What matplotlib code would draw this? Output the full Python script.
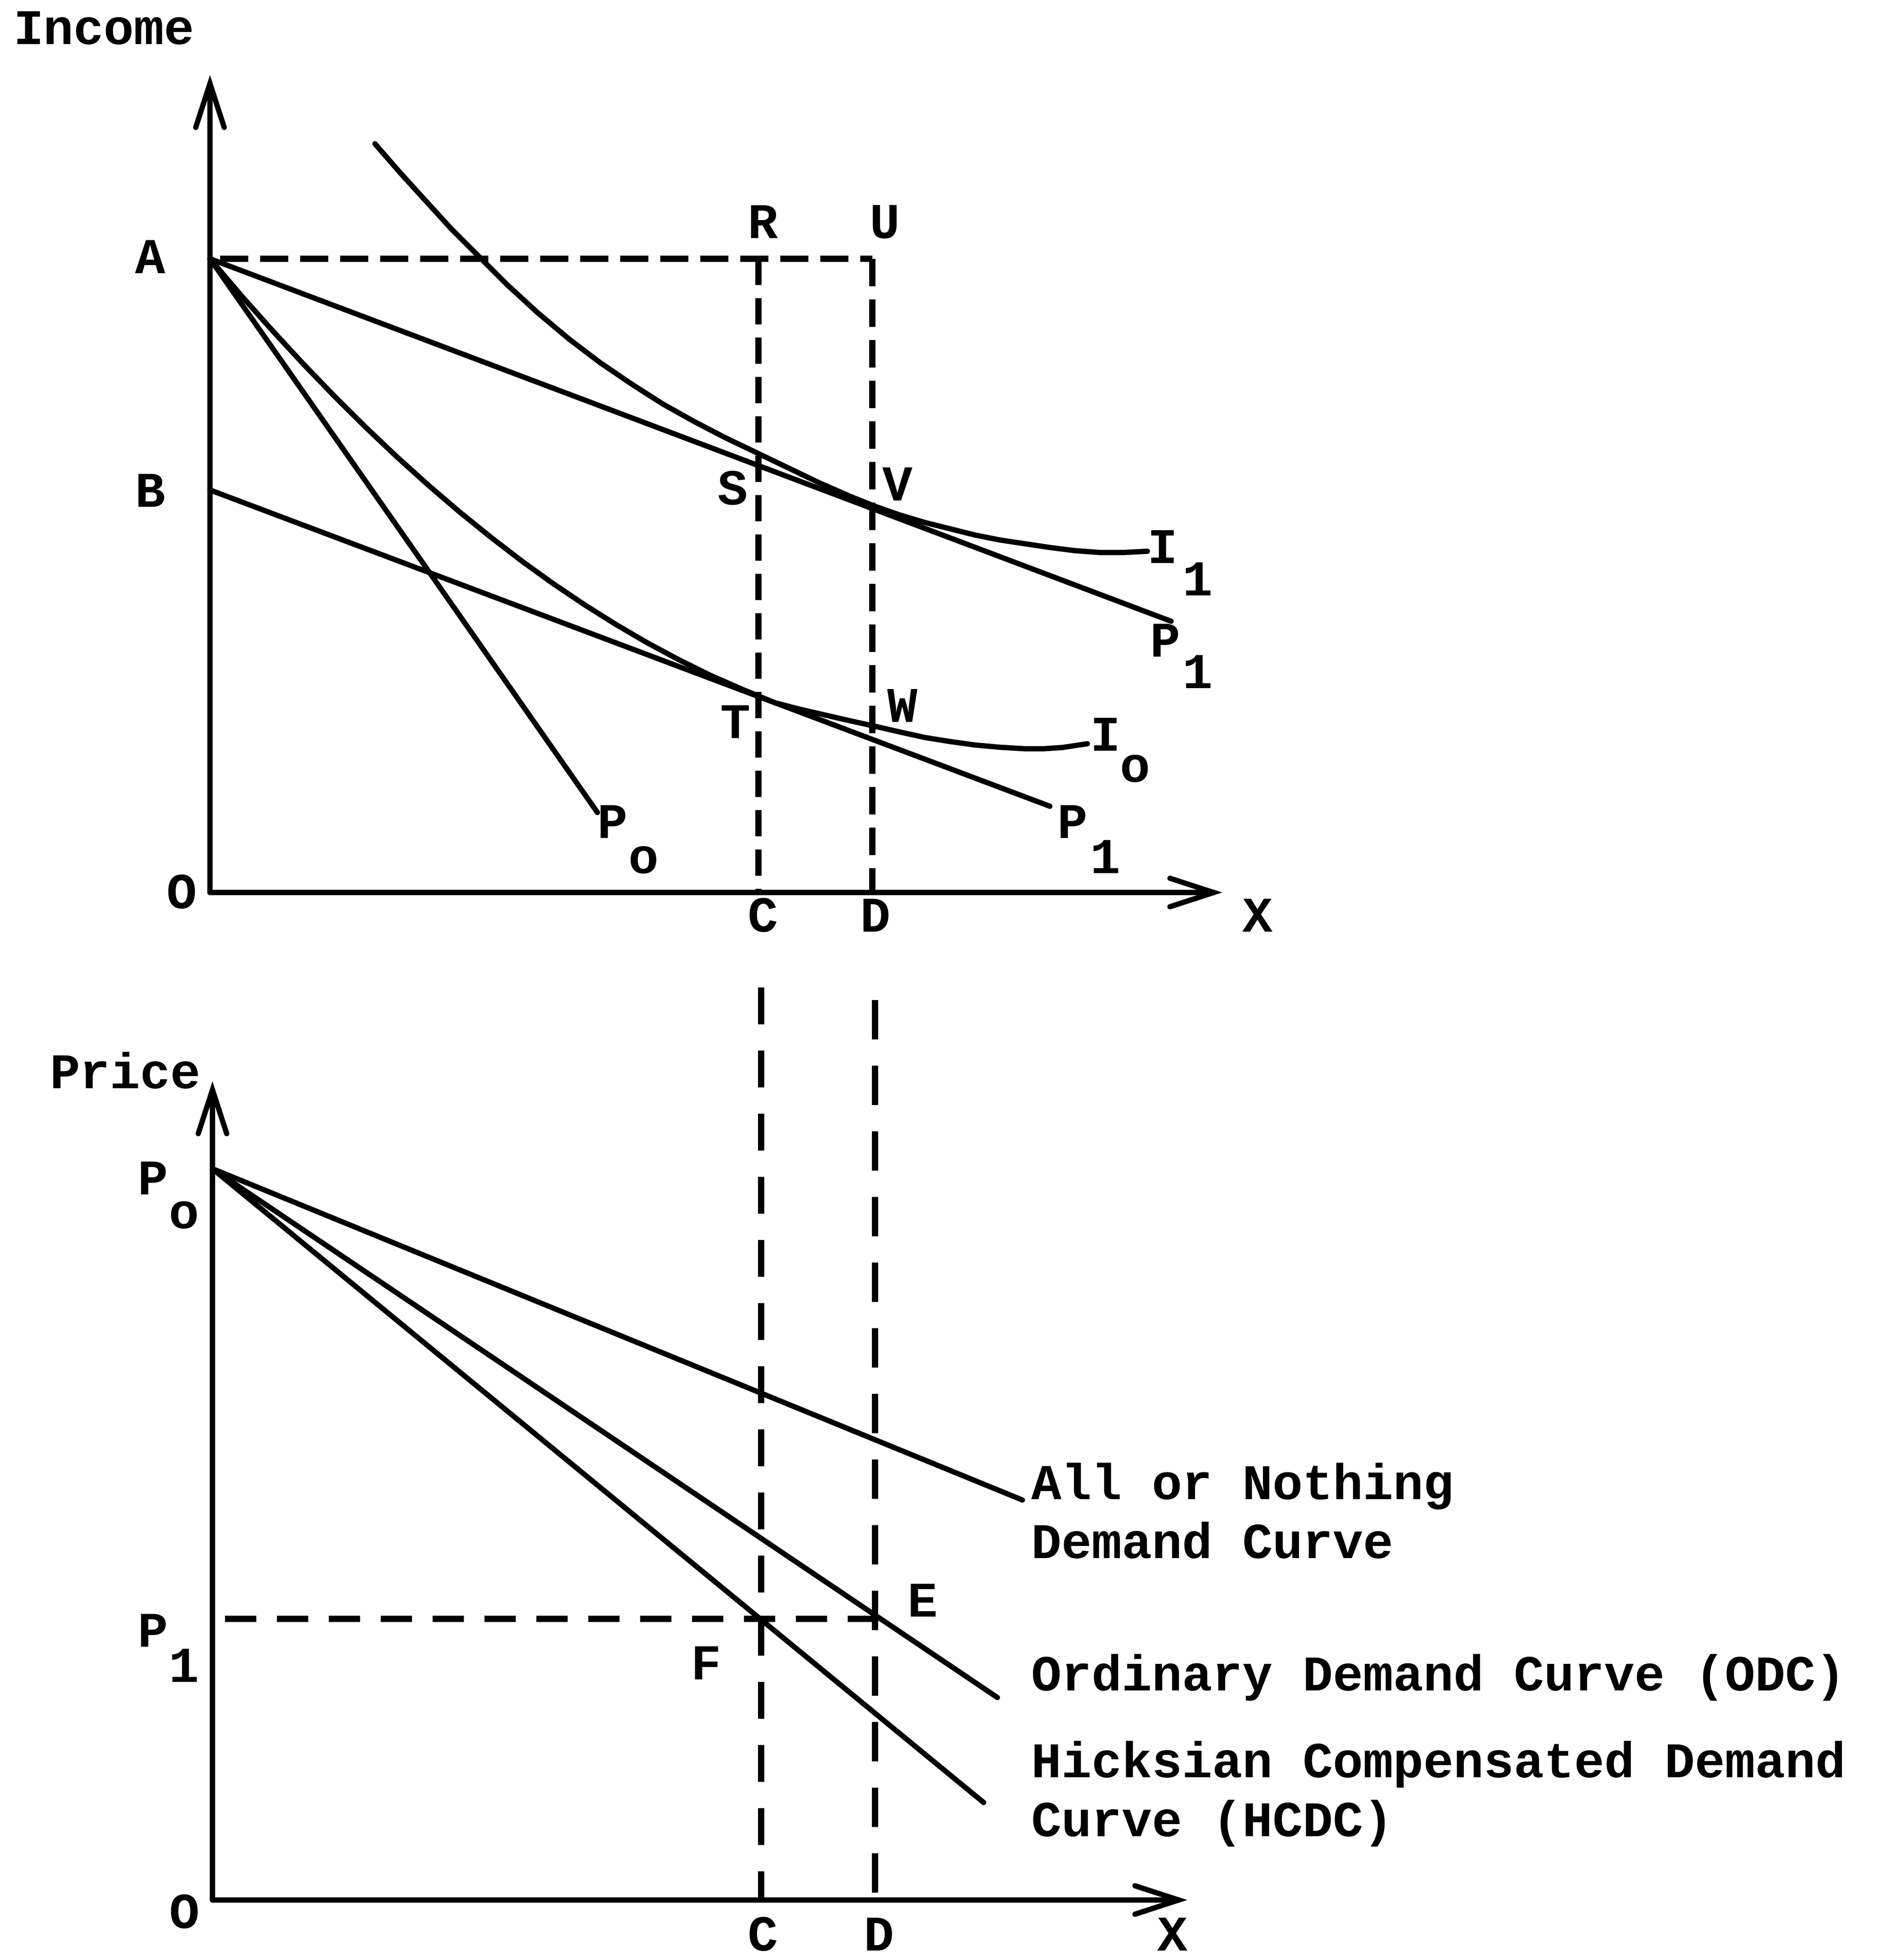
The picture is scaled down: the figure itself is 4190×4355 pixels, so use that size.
import matplotlib
matplotlib.use("Agg")
import matplotlib.pyplot as plt
from matplotlib.patches import FancyArrowPatch

# ---------------- data (diagram units) ----------------
# Top panel: income vs X
income_A = 50.7
income_B = 32.2
x_C = 43.9
x_D = 53.0
income_axis_top = 65.4
x_axis_top = 81.0

budget_upper_x = [0.0, 76.9]          # A -> P1 (upper)
budget_upper_y = [50.7, 21.7]
budget_p0_x = [0.0, 31.0]             # A -> Po
budget_p0_y = [50.7, 6.4]
budget_lower_x = [0.0, 67.2]          # B -> P1 (lower)
budget_lower_y = [32.2, 6.9]

i1_x = [13.2, 15.2, 17.2, 19.3, 21.5, 23.8, 26.2, 28.7, 31.2, 33.7, 36.2, 38.7, 41.2, 43.7, 46.2,
        48.7, 51.2, 53.2, 55.2, 57.2, 59.2, 61.2, 63.2, 65.2, 67.2, 69.2, 71.2, 73.1, 75.0]
i1_y = [59.9, 57.6, 55.4, 53.1, 50.9, 48.6, 46.4, 44.3, 42.4, 40.7, 39.1, 37.7, 36.4, 35.2, 34.0,
        32.8, 31.7, 30.9, 30.2, 29.6, 29.1, 28.6, 28.2, 27.9, 27.6, 27.35, 27.2, 27.2, 27.3]

i0_x = [0.0, 2.5, 5.0, 7.5, 10.0, 12.5, 15.0, 17.5, 20.0, 22.5, 25.0, 27.5, 30.0, 32.5, 35.0,
        37.5, 40.0, 42.6, 45.2, 47.2, 49.2, 51.2, 53.2, 55.2, 57.2, 59.2, 61.2, 63.2, 65.2, 66.7, 68.2, 70.2]
i0_y = [50.7, 47.76, 44.95, 42.25, 39.66, 37.18, 34.81, 32.56, 30.42, 28.40, 26.48, 24.68, 23.0, 21.43,
        19.97, 18.63, 17.39, 16.25, 15.18, 14.66, 14.2, 13.74, 13.3, 12.84, 12.4, 12.08, 11.8, 11.62,
        11.5, 11.5, 11.6, 11.9]

# Bottom panel: price vs X
price_P0 = 58.5
price_P1 = 22.5
price_axis_top = 65.5
x_axis_bottom = 78.0
aon_x = [0.0, 64.8]
aon_y = [58.5, 32.0]
odc_x = [0.0, 62.8]
odc_y = [58.5, 16.2]
hcdc_x = [0.0, 61.7]
hcdc_y = [58.5, 7.8]

# ---------------- styling ----------------
W_PX, H_PX = 4190, 4355
REF_W, REF_H = 1509, 1568
LW = 8.5
LWD = 10.0
FS = 80.5
FONT = dict(family="Liberation Mono", weight="bold", fontsize=FS, color="black")

fig = plt.figure(figsize=(W_PX / 100, H_PX / 100), dpi=100)
fig.patch.set_facecolor("white")


def make_axes(ox, oy, xmax, ymax):
    # origin at reference pixel (ox, oy); 10 reference px per unit
    ax = fig.add_axes([ox / REF_W, 1 - oy / REF_H, xmax * 10 / REF_W, ymax * 10 / REF_H])
    ax.set_xlim(0, xmax)
    ax.set_ylim(0, ymax)
    ax.axis("off")
    return ax


def arrow(ax, p0, p1):
    a = FancyArrowPatch(p0, p1, arrowstyle="->,head_length=0.4,head_width=0.13",
                        mutation_scale=175, lw=LW, color="black",
                        shrinkA=0, shrinkB=0, clip_on=False, joinstyle="miter")
    ax.add_patch(a)


def label(ax, x, y, s, **kw):
    d = dict(FONT)
    d.update(kw)
    ax.text(x, y, s, ha=d.pop("ha", "center"), va=d.pop("va", "center"), clip_on=False, **d)


def line(ax, x, y, **kw):
    ax.plot(x, y, color="black", lw=LW, solid_capstyle="round", solid_joinstyle="round",
            clip_on=False, **kw)


def dashed(ax, x, y, on, off):
    ax.plot(x, y, color="black", lw=LWD, dashes=(on, off), dash_capstyle="butt", clip_on=False)


# ================= TOP PANEL =================
ax1 = make_axes(168, 714, x_axis_top, income_axis_top)
arrow(ax1, (0, 0), (0, income_axis_top))
arrow(ax1, (0, 0), (x_axis_top, 0))

line(ax1, budget_upper_x, budget_upper_y)
line(ax1, budget_p0_x, budget_p0_y)
line(ax1, budget_lower_x, budget_lower_y)
line(ax1, i1_x, i1_y)
line(ax1, i0_x, i0_y)

dashed(ax1, [0.8, x_D], [income_A, income_A], 4.5, 1.9)
dashed(ax1, [x_C, x_C], [income_A, 0], 4.2, 2.1)
dashed(ax1, [x_D, x_D], [income_A, 0], 4.4, 2.1)

label(ax1, -8.5, 68.9, "Income")
label(ax1, -4.8, 50.6, "A")
label(ax1, -4.8, 31.9, "B")
label(ax1, -2.3, -0.2, "O")
label(ax1, 44.2, 53.4, "R")
label(ax1, 54.0, 53.4, "U")
label(ax1, 41.8, 32.1, "S")
label(ax1, 55.0, 32.4, "V")
label(ax1, 42.0, 13.4, "T")
label(ax1, 55.4, 14.7, "W")
label(ax1, 76.2, 27.4, "I")
label(ax1, 79.0, 24.8, "1")
label(ax1, 76.4, 19.9, "P")
label(ax1, 79.0, 17.4, "1")
label(ax1, 71.6, 12.4, "I")
label(ax1, 74.0, 9.9, "o")
label(ax1, 69.0, 5.4, "P")
label(ax1, 71.6, 2.6, "1")
label(ax1, 32.2, 5.4, "P")
label(ax1, 34.7, 2.6, "o")
label(ax1, 44.2, -2.1, "C")
label(ax1, 53.2, -2.1, "D")
label(ax1, 83.8, -2.1, "X")

# ================= BOTTOM PANEL =================
ax2 = make_axes(170, 1520, x_axis_bottom, price_axis_top)
arrow(ax2, (0, 0), (0, price_axis_top))
arrow(ax2, (0, 0), (x_axis_bottom, 0))

line(ax2, aon_x, aon_y)
line(ax2, odc_x, odc_y)
line(ax2, hcdc_x, hcdc_y)

dashed(ax2, [1.0, x_D], [price_P1, price_P1], 5.0, 3.3)
dashed(ax2, [x_C, x_C], [73.0, 0], 5.9, 4.2)
dashed(ax2, [x_D, x_D], [72.0, 0], 6.3, 4.2)

label(ax2, -7.0, 66.0, "Price")
label(ax2, -4.8, 57.5, "P")
label(ax2, -2.3, 54.8, "o")
label(ax2, -4.8, 21.3, "P")
label(ax2, -2.3, 18.5, "1")
label(ax2, -2.3, -1.2, "O")
label(ax2, 44.0, -3.0, "C")
label(ax2, 53.3, -3.0, "D")
label(ax2, 76.8, -3.0, "X")
label(ax2, 56.8, 23.7, "E")
label(ax2, 39.5, 18.7, "F")

label(ax2, 65.5, 30.75, "All or Nothing\nDemand Curve", ha="left", linespacing=1.34)
label(ax2, 65.5, 17.8, "Ordinary Demand Curve (ODC)", ha="left")
label(ax2, 65.5, 8.5, "Hicksian Compensated Demand\nCurve (HCDC)", ha="left", linespacing=1.34)

fig.savefig("out.png", dpi=100, facecolor="white")
